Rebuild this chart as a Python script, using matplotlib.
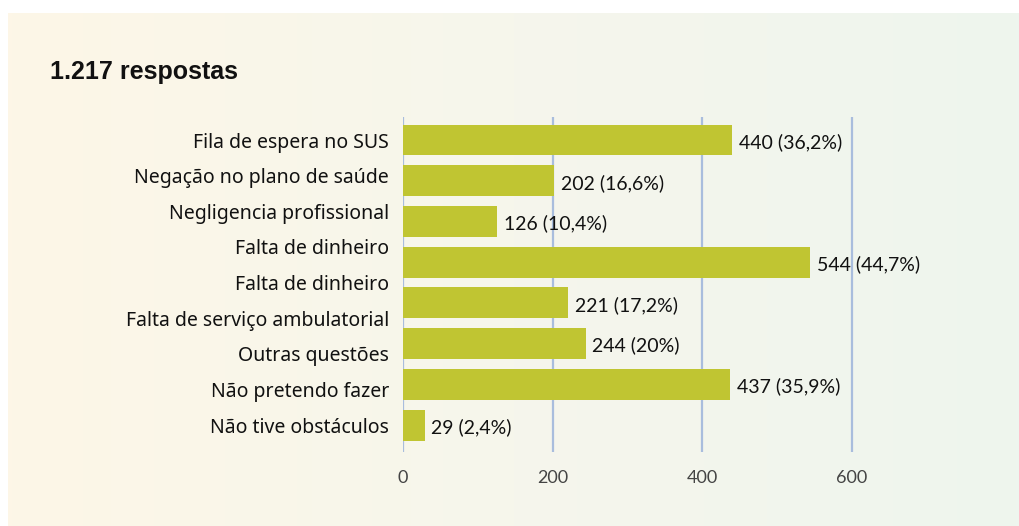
import numpy as np
import matplotlib.pyplot as plt
from matplotlib.colors import LinearSegmentedColormap

# data
labels = ["Fila de espera no SUS", "Negação no plano de saúde", "Negligencia profissional",
          "Falta de dinheiro", "Falta de dinheiro", "Falta de serviço ambulatorial",
          "Outras questões", "Não pretendo fazer", "Não tive obstáculos"]
values = [440, 202, 126, 544, 221, 244, 437, 29]
pcts = ["36,2%", "16,6%", "10,4%", "44,7%", "17,2%", "20%", "35,9%", "2,4%"]
xticks = [0, 200, 400, 600]

fig = plt.figure(figsize=(10.2, 5.26), dpi=100)

# background panel with soft horizontal gradient
bg = fig.add_axes([8 / 1020, 0, 1 - 8 / 1020, 1 - 13 / 526], zorder=0)
cmap = LinearSegmentedColormap.from_list("bg", ["#fdf6e7", "#f6f6ec", "#eef5ee"])
bg.imshow(np.linspace(0, 1, 256).reshape(1, -1), aspect="auto", cmap=cmap, extent=[0, 1, 0, 1])
bg.axis("off")

# axes: x=0 at px 403, x=600 at px 852 -> extend a bit so the last gridline is not clipped
ppu = (852 - 403) / 600
ax = fig.add_axes([403 / 1020, 1 - 452 / 526, 610 * ppu / 1020, (452 - 117) / 526], zorder=1)
ax.patch.set_alpha(0)

pos = np.arange(len(values))
ax.barh(pos, values, height=0.76, color="#c0c532", zorder=2)
for p, v, pc in zip(pos, values, pcts):
    ax.text(v + 9, p + 0.05, f"{v} ({pc})", va="center", ha="left",
            fontsize=14, family="Lato", color="#111111", zorder=3)

ax.set_xlim(0, 610)
ax.set_ylim(7.66, -0.565)
ax.set_xticks(xticks)
ax.set_xticklabels([str(t) for t in xticks], fontsize=13, family="Lato",
                   color="#444444")
ax.set_yticks(np.linspace(0, len(values) - 1, len(labels)))
ax.set_yticklabels(labels, fontsize=14, family="Noto Sans", color="#111111")
ax.tick_params(axis="both", length=0)
ax.tick_params(axis="x", pad=13)
ax.tick_params(axis="y", pad=10)
ax.xaxis.grid(True, color="#a9bddd", linewidth=1.6, zorder=1)
ax.set_axisbelow(True)
for s in ax.spines.values():
    s.set_visible(False)

fig.text(50 / 1020, 1 - 79 / 526, "1.217 respostas", fontsize=18, fontweight="bold",
         family="Liberation Sans", color="#111111")

fig.savefig("out.png", dpi=100)
